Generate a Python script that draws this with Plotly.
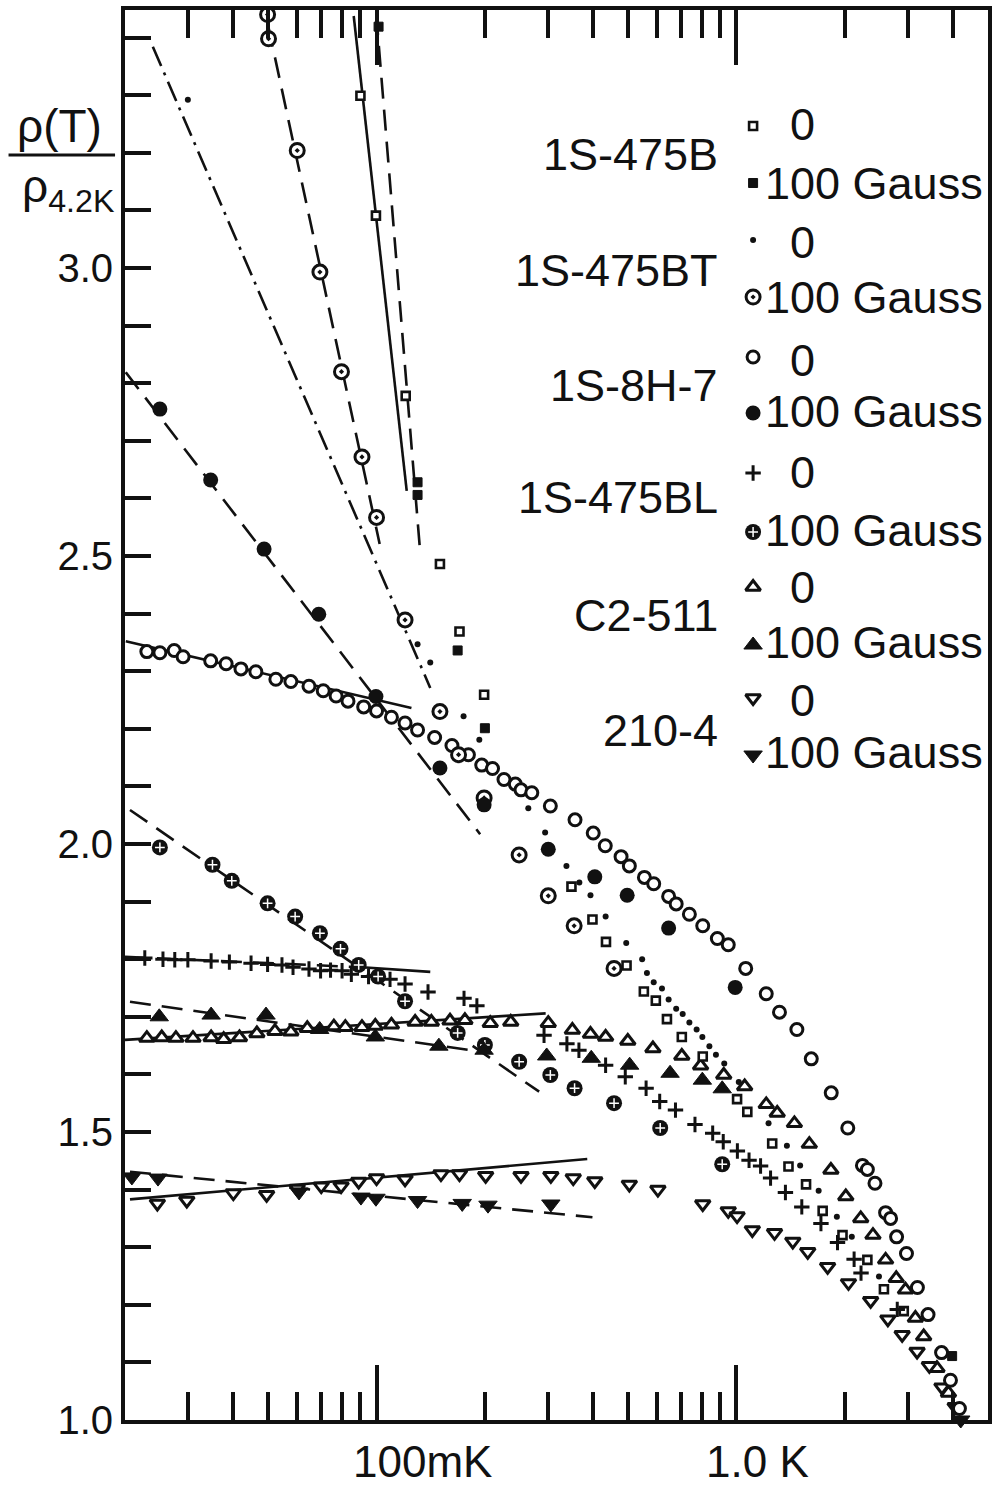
import math
import plotly.graph_objects as go

# ---------------------------------------------------------------
# Resistance ratio rho(T)/rho(4.2 K) versus temperature (mK)
# zero field and 100 Gauss for six samples
# ---------------------------------------------------------------

# 1S-475B
T_B_0 = [90.2, 99.6, 120.5, 150, 170, 199, 348, 398, 434, 495, 553, 597, 641, 705, 806,
         1004, 1072, 1257, 1395, 1561, 1736, 1971, 2311, 2569, 2917]
R_B_0 = [3.299, 3.091, 2.778, 2.486, 2.369, 2.259, 1.926, 1.869, 1.830, 1.789, 1.744, 1.728,
         1.696, 1.665, 1.631, 1.557, 1.535, 1.480, 1.440, 1.409, 1.363, 1.321, 1.278, 1.227, 1.189]
T_B_100 = [101.3, 130, 130, 168, 200, 3975]
R_B_100 = [3.419, 2.628, 2.606, 2.336, 2.201, 1.111]

# 1S-475BT
T_BT_0 = [29.9, 130, 141, 174.5, 193, 264, 294, 337, 366, 393, 433, 494, 547, 564, 589, 621,
          648, 680, 709, 740, 775, 804, 841, 877, 925, 1015, 1228, 1381, 1503, 1692, 1901, 2092, 2489]
R_BT_0 = [3.292, 2.347, 2.315, 2.222, 2.181, 2.062, 2.020, 1.962, 1.933, 1.911, 1.874, 1.828,
          1.800, 1.776, 1.760, 1.749, 1.730, 1.714, 1.705, 1.690, 1.678, 1.665, 1.649, 1.634,
          1.619, 1.587, 1.515, 1.476, 1.442, 1.398, 1.353, 1.318, 1.249]
T_BT_100 = [49.8, 50.1, 60.2, 69.6, 79.9, 91.1, 100, 120, 150, 169, 199, 249, 300, 354, 457]
R_BT_100 = [3.440, 3.398, 3.204, 2.993, 2.820, 2.672, 2.567, 2.389, 2.230, 2.155, 2.080, 1.981,
            1.910, 1.858, 1.784]

# 1S-8H-7
T_H_0 = [23.0, 25.0, 27.4, 29.0, 34.6, 38.2, 42.0, 46.2, 52.5, 57.8, 64.9, 71.1, 77.2, 83.3, 92.1,
         100, 110, 120, 130, 145, 162, 180, 196, 210, 226, 243, 252, 270, 304, 356, 400, 432,
         478, 504, 555, 589, 648, 680, 740, 806, 885, 949, 1061, 1210, 1317, 1472, 1614, 1834,
         2039, 2239, 2311, 2426, 2597, 2681, 2786, 2968, 3183, 3407, 3715, 3933, 4165]
R_H_0 = [2.334, 2.332, 2.336, 2.325, 2.318, 2.313, 2.304, 2.299, 2.286, 2.282, 2.274, 2.266,
         2.257, 2.248, 2.238, 2.231, 2.220, 2.210, 2.198, 2.185, 2.171, 2.155, 2.137, 2.131,
         2.112, 2.104, 2.094, 2.089, 2.066, 2.042, 2.019, 1.997, 1.978, 1.962, 1.942, 1.931,
         1.909, 1.896, 1.878, 1.858, 1.836, 1.825, 1.784, 1.740, 1.708, 1.678, 1.627, 1.568,
         1.507, 1.442, 1.435, 1.411, 1.360, 1.350, 1.318, 1.289, 1.230, 1.183, 1.117, 1.069, 1.020]
T_H_100 = [25.0, 34.6, 48.7, 69.1, 99.6, 150, 199, 300, 404, 497, 648, 992]
R_H_100 = [2.755, 2.632, 2.512, 2.399, 2.256, 2.132, 2.068, 1.991, 1.943, 1.911, 1.854, 1.751]

# 1S-475BL
T_BL_0 = [22.7, 25.5, 27.5, 29.9, 34.7, 39.0, 44.8, 49.8, 54.6, 58.6, 64.9, 69.9, 74.5, 80.2,
          85.1, 95.0, 109, 120, 139, 175, 190, 292, 338, 365, 433, 491, 561, 612, 677, 767, 859,
          919, 1006, 1084, 1167, 1244, 1368, 1519, 1717, 1909, 2123, 2219, 2798]
R_BL_0 = [1.802, 1.800, 1.799, 1.799, 1.797, 1.795, 1.793, 1.791, 1.790, 1.786, 1.783, 1.780,
          1.781, 1.780, 1.774, 1.770, 1.765, 1.757, 1.743, 1.732, 1.719, 1.668, 1.653, 1.642,
          1.616, 1.596, 1.576, 1.553, 1.538, 1.513, 1.498, 1.483, 1.467, 1.451, 1.441, 1.420,
          1.395, 1.370, 1.341, 1.308, 1.279, 1.255, 1.192]
T_BL_100 = [25.0, 35.0, 39.6, 49.8, 59.4, 69.6, 79.4, 89.2, 101, 120, 168, 200, 249, 304, 355,
            457, 614, 913]
R_BL_100 = [1.994, 1.964, 1.936, 1.897, 1.874, 1.845, 1.818, 1.790, 1.770, 1.727, 1.672, 1.651,
            1.622, 1.599, 1.576, 1.550, 1.507, 1.444]

# C2-511
T_C_0 = [23.0, 25.3, 27.7, 30.9, 34.7, 37.6, 41.6, 46.5, 52.2, 57.8, 64.2, 76.1, 81.9, 91.1, 99.2,
         110, 128, 142, 160, 176, 207, 236, 300, 350, 393, 433, 499, 586, 705, 795, 922, 1054,
         1210, 1298, 1449, 1594, 1830, 2013, 2215, 2395, 2597, 2780, 2949, 3142, 3313, 3607, 3883]
R_C_0 = [1.663, 1.664, 1.663, 1.663, 1.664, 1.661, 1.664, 1.671, 1.675, 1.674, 1.680, 1.683,
         1.682, 1.682, 1.684, 1.686, 1.691, 1.691, 1.693, 1.694, 1.689, 1.691, 1.689, 1.677,
         1.670, 1.665, 1.658, 1.645, 1.632, 1.615, 1.599, 1.579, 1.548, 1.533, 1.515, 1.479,
         1.434, 1.388, 1.350, 1.321, 1.278, 1.246, 1.226, 1.177, 1.145, 1.090, 1.047]
T_C_100 = [20.0, 24.9, 34.7, 49.3, 69.5, 99.2, 149, 199, 297, 395, 505, 654, 804, 913]
R_C_100 = [1.722, 1.700, 1.703, 1.703, 1.678, 1.665, 1.649, 1.642, 1.632, 1.628, 1.616, 1.602,
           1.590, 1.575]

# 210-4
T_D_0 = [24.6, 29.7, 40.0, 49.5, 60.2, 70.2, 79.7, 89.2, 100, 120, 151, 170, 201, 252, 305, 352,
         404, 504, 605, 806, 949, 1004, 1107, 1276, 1434, 1578, 1792, 2048, 2360, 2635, 2887,
         3176, 3436, 3724, 4053]
R_D_0 = [1.376, 1.381, 1.394, 1.391, 1.402, 1.406, 1.406, 1.414, 1.420, 1.418, 1.427, 1.427,
         1.424, 1.424, 1.424, 1.420, 1.415, 1.409, 1.400, 1.375, 1.363, 1.354, 1.330, 1.325,
         1.310, 1.292, 1.266, 1.238, 1.207, 1.175, 1.148, 1.119, 1.094, 1.057, 1.023]
T_D_100 = [20.9, 24.7, 60.9, 90.5, 99.6, 130, 173, 204, 305, 4200]
R_D_100 = [1.422, 1.420, 1.396, 1.387, 1.385, 1.381, 1.376, 1.373, 1.375, 1.000]

# straight-line fits (two end points each: T in mK, ratio)
FIT_B_0 = ([86.4, 121.3], [3.4375, 2.613], "solid")
FIT_B_100 = ([99.8, 131.9], [3.441, 2.514], "dash")
FIT_BT_0 = ([23.9, 141], [3.384, 2.271], "dashdot")
FIT_BT_100 = ([50.0, 102], [3.42, 2.521], "dash")
FIT_H_0 = ([20.1, 125], [2.352, 2.236], "solid")
FIT_H_100 = ([20.1, 194], [2.819, 2.017], "dash")
FIT_BL_0A = ([20.0, 91.1], [1.804, 1.786], "dash")
FIT_BL_0B = ([91.1, 141], [1.786, 1.778], "solid")
FIT_BL_100 = ([20.65, 283], [2.059, 1.570], "dash")
FIT_C_0 = ([20.0, 295], [1.660, 1.706], "solid")
FIT_C_100 = ([20.65, 183], [1.726, 1.642], "dash")
FIT_D_0 = ([20.65, 385], [1.383, 1.453], "solid")
FIT_D_100 = ([20.65, 398], [1.431, 1.352], "dash")

SAMPLES = ["1S-475B", "1S-475BT", "1S-8H-7", "1S-475BL", "C2-511", "210-4"]
FIELD_0 = "0"
FIELD_100 = "100 Gauss"
X_LABELS = ["100mK", "1.0 K"]
Y_MAJOR = [1.0, 1.5, 2.0, 2.5, 3.0]
Y_MINOR = [1.1, 1.2, 1.3, 1.4, 1.6, 1.7, 1.8, 1.9, 2.1, 2.2, 2.3, 2.4,
           2.6, 2.7, 2.8, 2.9, 3.1, 3.2, 3.3, 3.4]
X_MINOR = [30, 40, 50, 60, 70, 80, 90, 200, 300, 400, 500, 600, 700, 800, 900,
           2000, 3000, 4000]

# ---------------------------------------------------------------
INK = "#111111"
FONT = "Liberation Sans"
W, H = 993, 1486
ML, MR, MT, MB = 125, 1, 10, 66


def px(x):
    return (x - ML) / (W - ML - MR)


def py(y):
    return (H - MB - y) / (H - MT - MB)


DASHES = {"solid": "solid", "dash": "21px,11px", "dashdot": "21px,7px,3px,7px"}

S = {
    "B0": dict(symbol="square", size=8, color="white", line=dict(color=INK, width=2.6)),
    "B100": dict(symbol="square", size=9, color=INK, line=dict(color=INK, width=1)),
    "BT0": dict(symbol="circle", size=6, color=INK, line=dict(width=0)),
    "BT100": dict(symbol="circle-dot", size=14, color="white", line=dict(color=INK, width=3)),
    "H0": dict(symbol="circle", size=12, color="white", line=dict(color=INK, width=3)),
    "H100": dict(symbol="circle", size=15, color=INK, line=dict(width=0)),
    "BL0": dict(symbol="cross-thin", size=11, color=INK, line=dict(color=INK, width=3)),
    "BL100": dict(symbol="circle", size=16, color=INK, line=dict(width=0)),
    "C0": dict(symbol="triangle-up", size=13, color="white", line=dict(color=INK, width=3)),
    "C100": dict(symbol="triangle-up", size=16, color=INK, line=dict(color=INK, width=1)),
    "D0": dict(symbol="triangle-down", size=13, color="white", line=dict(color=INK, width=3)),
    "D100": dict(symbol="triangle-down", size=16, color=INK, line=dict(color=INK, width=1)),
}
CROSS_IN = dict(symbol="cross-thin", size=7, color="white", line=dict(color="white", width=1.5))

fig = go.Figure()

for xs, ys, style in [FIT_B_0, FIT_B_100, FIT_BT_0, FIT_BT_100, FIT_H_0, FIT_H_100,
                      FIT_BL_0A, FIT_BL_0B, FIT_BL_100, FIT_C_0, FIT_C_100, FIT_D_0, FIT_D_100]:
    fig.add_trace(go.Scatter(x=xs, y=ys, mode="lines",
                             line=dict(color=INK, width=2.6, dash=DASHES[style]),
                             hoverinfo="skip"))

series = [
    (T_C_0, R_C_0, "C0"), (T_D_0, R_D_0, "D0"), (T_H_0, R_H_0, "H0"),
    (T_B_0, R_B_0, "B0"), (T_BL_0, R_BL_0, "BL0"), (T_BT_0, R_BT_0, "BT0"),
    (T_BT_100, R_BT_100, "BT100"), (T_H_100, R_H_100, "H100"), (T_BL_100, R_BL_100, "BL100"),
    (T_B_100, R_B_100, "B100"), (T_C_100, R_C_100, "C100"), (T_D_100, R_D_100, "D100"),
]
for xs, ys, key in series:
    fig.add_trace(go.Scatter(x=xs, y=ys, mode="markers", marker=S[key], cliponaxis=False))
    if key == "BL100":
        fig.add_trace(go.Scatter(x=xs, y=ys, mode="markers", marker=CROSS_IN, cliponaxis=False))

# key symbols, drawn on a pixel-scaled overlay axis
key_order = ["B0", "B100", "BT0", "BT100", "H0", "H100", "BL0", "BL100", "C0", "C100", "D0", "D100"]
key_y = [126, 183, 240, 297, 357, 413, 473, 532, 587, 645, 698, 755]
for k, yk in zip(key_order, key_y):
    fig.add_trace(go.Scatter(x=[756], y=[yk], mode="markers", marker=S[k],
                             xaxis="x2", yaxis="y2", cliponaxis=False))
    if k == "BL100":
        fig.add_trace(go.Scatter(x=[756], y=[yk], mode="markers", marker=CROSS_IN,
                                 xaxis="x2", yaxis="y2", cliponaxis=False))

ann = []
name_y = [155, 270, 385, 497, 615, 730]
zero_y = [125, 242, 360, 472, 587, 700]
gauss_y = [183, 297, 411, 530, 642, 752]
for name, y1, y2, y3 in zip(SAMPLES, name_y, zero_y, gauss_y):
    ann.append(dict(x=px(723), y=py(y1), text=name, xanchor="right", yanchor="middle",
                    font=dict(size=45)))
    ann.append(dict(x=px(791), y=py(y2), text=FIELD_0, xanchor="left", yanchor="middle",
                    font=dict(size=45)))
    ann.append(dict(x=px(766), y=py(y3), text=FIELD_100, xanchor="left", yanchor="middle",
                    font=dict(size=45)))

ann.append(dict(x=px(424), y=py(1461), text=X_LABELS[0], xanchor="center", yanchor="middle",
                font=dict(size=44)))
ann.append(dict(x=px(760), y=py(1461), text=X_LABELS[1], xanchor="center", yanchor="middle",
                font=dict(size=44)))

# axis title as a stacked fraction
ann.append(dict(x=px(59), y=py(126), text="ρ(T)", xanchor="center", yanchor="middle",
                font=dict(size=46)))
ann.append(dict(x=px(68), y=py(190), text="ρ<sub>4.2K</sub>", xanchor="center",
                yanchor="middle", font=dict(size=46)))
for a in ann:
    a.update(xref="paper", yref="paper", showarrow=False)
    a["font"].update(family=FONT, color=INK)

fig.update_layout(
    width=W, height=H,
    margin=dict(l=ML, r=MR, t=MT, b=MB, pad=0),
    paper_bgcolor="white", plot_bgcolor="white",
    showlegend=False,
    annotations=ann,
    shapes=[dict(type="line", xref="paper", yref="paper",
                 x0=px(8), x1=px(115), y0=py(155), y1=py(155),
                 line=dict(color=INK, width=3))],
    xaxis=dict(type="log", range=[math.log10(20), math.log10(5000)],
               showline=True, linecolor=INK, linewidth=4, mirror="ticks",
               ticks="inside", ticklen=55, tickwidth=3.5, tickcolor=INK,
               tickvals=[100, 1000], showticklabels=False,
               showgrid=False, zeroline=False,
               minor=dict(ticks="inside", ticklen=28, tickwidth=3.5, tickcolor=INK,
                          tickvals=X_MINOR, showgrid=False)),
    yaxis=dict(range=[1.0, (H - MB - MT) / 576 + 1.0],
               showline=True, linecolor=INK, linewidth=4, mirror=True,
               ticks="inside", ticklen=26, tickwidth=3.5, tickcolor=INK,
               tickvals=Y_MAJOR, ticktext=[f"{v:.1f}" for v in Y_MAJOR],
               tickfont=dict(family=FONT, size=40, color=INK),
               minor=dict(ticks="inside", ticklen=26, tickwidth=3.5, tickcolor=INK,
                          tickvals=Y_MINOR, showgrid=False),
               showgrid=False, zeroline=False),
    xaxis2=dict(overlaying="x", range=[ML, W - MR], visible=False, anchor="y2"),
    yaxis2=dict(overlaying="y", range=[H - MB, MT], visible=False, anchor="x2"),
)

fig.write_html("out.html")
